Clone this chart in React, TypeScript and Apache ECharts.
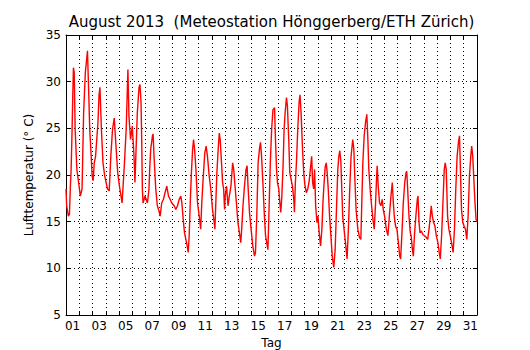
import React, { useEffect, useRef } from "react";
import * as echarts from "echarts";

const titleText = "August 2013  (Meteostation Hönggerberg/ETH Zürich)";
const dayLabels = Array.from({ length: 31 }, (_, i) => String(i + 1).padStart(2, "0"));
const yTicks = [5, 10, 15, 20, 25, 30, 35];

// time in days since 1 Aug 00:00
const times = [
  0.00, 0.05, 0.18, 0.26, 0.33, 0.38, 0.46, 0.51, 0.56, 0.62, 0.69, 0.82, 0.95,
  1.08, 1.21, 1.33, 1.46, 1.62, 1.72, 1.79, 1.90, 1.97,
  2.05, 2.13, 2.23, 2.41, 2.49, 2.56, 2.67, 2.79, 2.92,
  3.13, 3.26, 3.38, 3.51, 3.64, 3.77, 3.90,
  4.03, 4.23, 4.41, 4.54, 4.67, 4.75, 4.87,
  5.00, 5.13, 5.20, 5.38, 5.51, 5.58, 5.66, 5.71, 5.76, 5.81, 5.96,
  6.14, 6.26, 6.31, 6.39, 6.52, 6.57, 6.64, 6.77, 6.89,
  7.02, 7.10, 7.22, 7.35, 7.47, 7.60, 7.73, 7.85, 7.98,
  8.16, 8.28, 8.41, 8.54, 8.66, 8.74, 8.84, 8.94,
  9.04, 9.14, 9.22, 9.29, 9.39, 9.47, 9.55, 9.62, 9.70, 9.80, 9.92,
  10.05, 10.16, 10.24, 10.34, 10.47, 10.57, 10.67, 10.80, 10.92,
  11.05, 11.18, 11.23, 11.30, 11.38, 11.48, 11.56, 11.63, 11.73, 11.81, 11.89, 11.96,
  12.01, 12.11, 12.22, 12.32, 12.44, 12.57, 12.65, 12.75, 12.87, 12.97,
  13.08, 13.18, 13.25, 13.35, 13.46, 13.58, 13.66, 13.73, 13.84, 13.96,
  14.09, 14.22, 14.29, 14.39, 14.49, 14.59, 14.67, 14.75, 14.85, 14.95,
  15.05, 15.23, 15.30, 15.41, 15.51, 15.61, 15.73, 15.80, 15.88, 15.95,
  16.05, 16.13, 16.20, 16.28, 16.38, 16.45, 16.53, 16.63, 16.70, 16.80, 16.88, 16.98,
  17.08, 17.18, 17.23, 17.30, 17.38, 17.48, 17.58, 17.65, 17.73, 17.83, 17.93,
  18.03, 18.13, 18.23, 18.33, 18.43, 18.53, 18.60, 18.68, 18.75, 18.83, 18.93,
  19.00, 19.10, 19.20, 19.30, 19.38, 19.45, 19.55, 19.63, 19.70, 19.78, 19.88, 19.98,
  20.08, 20.20, 20.30, 20.40, 20.50, 20.58, 20.65, 20.73, 20.80, 20.87, 20.97,
  21.08, 21.20, 21.30, 21.40, 21.50, 21.63, 21.71, 21.78, 21.88,
  22.01, 22.14, 22.24, 22.31, 22.39, 22.49, 22.59, 22.69, 22.77, 22.84, 22.94,
  23.05, 23.15, 23.25, 23.35, 23.42, 23.47, 23.55, 23.65, 23.75, 23.85, 23.93,
  24.03, 24.16, 24.28, 24.41, 24.51, 24.61, 24.69, 24.76, 24.86, 24.96,
  25.07, 25.17, 25.24, 25.34, 25.44, 25.55, 25.65, 25.70, 25.77, 25.87, 25.97,
  26.03, 26.13, 26.20, 26.28, 26.35, 26.43, 26.50, 26.55, 26.63, 26.70, 26.80, 26.93,
  27.05, 27.18, 27.28, 27.38, 27.48, 27.55, 27.63, 27.73, 27.83, 27.93,
  28.05, 28.15, 28.23, 28.33, 28.43, 28.53, 28.60, 28.68, 28.78, 28.88, 28.98,
  29.08, 29.20, 29.30, 29.40, 29.50, 29.60, 29.68, 29.75, 29.83, 29.93,
  30.03, 30.13, 30.23, 30.33, 30.43, 30.53, 30.60, 30.68, 30.75, 30.85, 30.93, 31.00,
];

// air temperature in °C
const temps = [
  18.5, 16.7, 15.6, 15.8, 18.8, 20.3, 24.9, 28.5, 31.5, 31.0, 24.9, 20.6, 19.2,
  17.75, 18.5, 26.7, 31.0, 33.3, 28.5, 24.9, 22.0, 19.9,
  19.4, 21.3, 22.0, 25.6, 28.5, 29.4, 24.9, 21.3, 19.9,
  18.5, 18.3, 22.0, 24.9, 26.1, 23.1, 20.25,
  18.8, 17.0, 21.3, 24.9, 31.3, 26.3, 23.8,
  25.25, 22.0, 19.2, 26.7, 29.4, 29.7, 27.75, 23.8, 18.5, 17.0, 17.75,
  17.0, 18.5, 20.6, 22.75, 24.2, 24.4, 22.0, 18.5, 16.7,
  16.1, 15.6, 17.0, 17.4, 18.1, 18.8, 17.75, 17.4, 17.0,
  16.7, 16.3, 16.7, 17.4, 17.75, 17.0, 15.25, 13.8,
  13.1, 12.4, 11.7, 13.5, 17.75, 20.6, 22.75, 23.8, 22.75, 20.6, 17.0,
  15.6, 14.2, 17.0, 19.5, 22.4, 23.1, 22.0, 19.9, 18.5,
  16.3, 14.9, 14.2, 17.0, 20.25, 22.75, 24.5, 23.8, 21.3, 19.2, 18.5, 16.3,
  17.75, 18.8, 16.7, 17.75, 18.8, 21.3, 20.6, 18.8, 16.7, 14.9,
  13.8, 12.75, 14.2, 16.7, 18.8, 20.6, 21.0, 18.8, 16.0, 14.2,
  12.4, 11.3, 11.7, 15.6, 21.3, 22.75, 23.5, 22.0, 19.2, 16.0,
  13.5, 12.0, 15.6, 21.3, 24.9, 27.0, 27.2, 23.8, 20.6, 19.2,
  18.5, 17.0, 16.0, 17.75, 21.3, 24.9, 26.7, 28.3, 27.4, 23.8, 20.25, 19.5,
  18.8, 17.4, 16.0, 19.2, 21.3, 24.9, 27.75, 28.6, 26.7, 23.1, 20.25,
  18.8, 18.1, 18.5, 19.2, 20.6, 22.0, 19.2, 18.5, 20.6, 16.7, 14.9,
  15.6, 13.8, 12.4, 14.2, 17.0, 18.8, 20.9, 21.3, 20.25, 18.5, 15.6, 13.5,
  11.3, 10.1, 12.0, 16.3, 20.6, 22.0, 22.6, 21.5, 18.5, 15.6, 14.2,
  12.75, 11.0, 14.2, 18.5, 22.0, 23.8, 22.75, 19.9, 16.3,
  14.2, 13.3, 13.1, 17.0, 21.3, 24.2, 25.6, 26.5, 23.8, 20.6, 18.5,
  16.7, 15.25, 14.2, 17.0, 19.5, 21.0, 18.8, 17.0, 16.7, 17.4, 16.3,
  15.6, 14.2, 13.5, 16.0, 17.75, 19.2, 17.0, 15.6, 14.5, 14.2,
  12.75, 11.3, 11.0, 13.8, 17.0, 19.2, 20.25, 20.4, 18.5, 15.6, 13.8,
  13.5, 12.0, 11.3, 13.5, 14.9, 16.3, 17.4, 17.75, 14.9, 13.8, 14.0, 13.6,
  13.5, 13.3, 13.1, 14.2, 15.6, 16.7, 15.6, 14.9, 14.5, 13.5,
  12.75, 11.7, 11.0, 13.5, 17.0, 20.6, 21.3, 20.6, 15.6, 14.2, 13.5,
  12.75, 11.7, 14.2, 18.5, 22.0, 23.5, 24.2, 20.6, 16.3, 14.9,
  14.5, 14.2, 13.1, 15.6, 19.9, 22.0, 23.1, 22.0, 19.9, 17.0, 15.25, 15.0,
];

const FONT = "DejaVu Sans";

export default function App() {
  const ref = useRef<HTMLDivElement>(null);
  useEffect(() => {
    if (!ref.current) return;
    const chart = echarts.init(ref.current, undefined, { renderer: "svg" });
    const data = times.map((t, i) => [t, temps[i]]);
    const gridDotted = { show: true, lineStyle: { color: "#000", type: [1, 3] as any, width: 1 } };
    chart.setOption({
      animation: false,
      backgroundColor: "#fff",
      graphic: [
        {
          type: "text",
          x: 271.5,
          y: 22,
          style: {
            text: titleText,
            font: `15px '${FONT}'`,
            fill: "#000",
            textAlign: "center",
            textVerticalAlign: "middle",
            align: "center",
            verticalAlign: "middle",
          },
        },
      ],
      grid: {
        left: 66,
        top: 35,
        width: 411,
        height: 280,
        containLabel: false,
        outerBoundsMode: "none",
      },
      xAxis: [
        {
          type: "value",
          min: 0,
          max: 31,
          interval: 1,
          position: "bottom",
          axisLine: { show: true, onZero: false, lineStyle: { color: "#000", width: 1 } },
          axisTick: { show: true, inside: true, length: 4, lineStyle: { color: "#000" } },
          axisLabel: { show: false },
          splitLine: gridDotted,
        },
        {
          type: "value",
          min: 0,
          max: 31,
          interval: 1,
          position: "top",
          axisLine: { show: true, onZero: false, lineStyle: { color: "#000", width: 1 } },
          axisTick: { show: true, inside: true, length: 4, lineStyle: { color: "#000" } },
          axisLabel: { show: false },
          splitLine: { show: false },
        },
        {
          type: "category",
          data: dayLabels,
          boundaryGap: true,
          position: "bottom",
          axisLine: { show: false },
          axisTick: { show: false },
          splitLine: { show: false },
          axisLabel: { interval: 1, color: "#000", fontFamily: FONT, fontSize: 12, margin: 5 },
          name: "Tag",
          nameLocation: "middle",
          nameGap: 22,
          nameTextStyle: { color: "#000", fontFamily: FONT, fontSize: 12 },
        },
      ],
      yAxis: [
        {
          type: "value",
          min: 5,
          max: 35,
          interval: 5,
          position: "left",
          axisLine: { show: true, onZero: false, lineStyle: { color: "#000", width: 1 } },
          axisTick: { show: true, inside: true, length: 4, lineStyle: { color: "#000" } },
          axisLabel: {
            color: "#000",
            fontFamily: FONT,
            fontSize: 12,
            margin: 5,
            formatter: (v: number) => (yTicks.includes(v) ? String(v) : ""),
          },
          splitLine: gridDotted,
          name: "Lufttemperatur (° C)",
          nameLocation: "middle",
          nameGap: 30,
          nameRotate: 90,
          nameTextStyle: { color: "#000", fontFamily: FONT, fontSize: 12 },
        },
        {
          type: "value",
          min: 5,
          max: 35,
          interval: 5,
          position: "right",
          axisLine: { show: true, onZero: false, lineStyle: { color: "#000", width: 1 } },
          axisTick: { show: true, inside: true, length: 4, lineStyle: { color: "#000" } },
          axisLabel: { show: false },
          splitLine: { show: false },
        },
      ],
      series: [
        {
          type: "line",
          xAxisIndex: 0,
          yAxisIndex: 0,
          data,
          showSymbol: false,
          symbol: "none",
          lineStyle: { color: "#ff0000", width: 1.4 },
          clip: true,
        },
      ],
    });
    return () => chart.dispose();
  }, []);
  return <div ref={ref} style={{ width: 530, height: 350, position: "absolute", left: 0, top: 0 }} />;
}
